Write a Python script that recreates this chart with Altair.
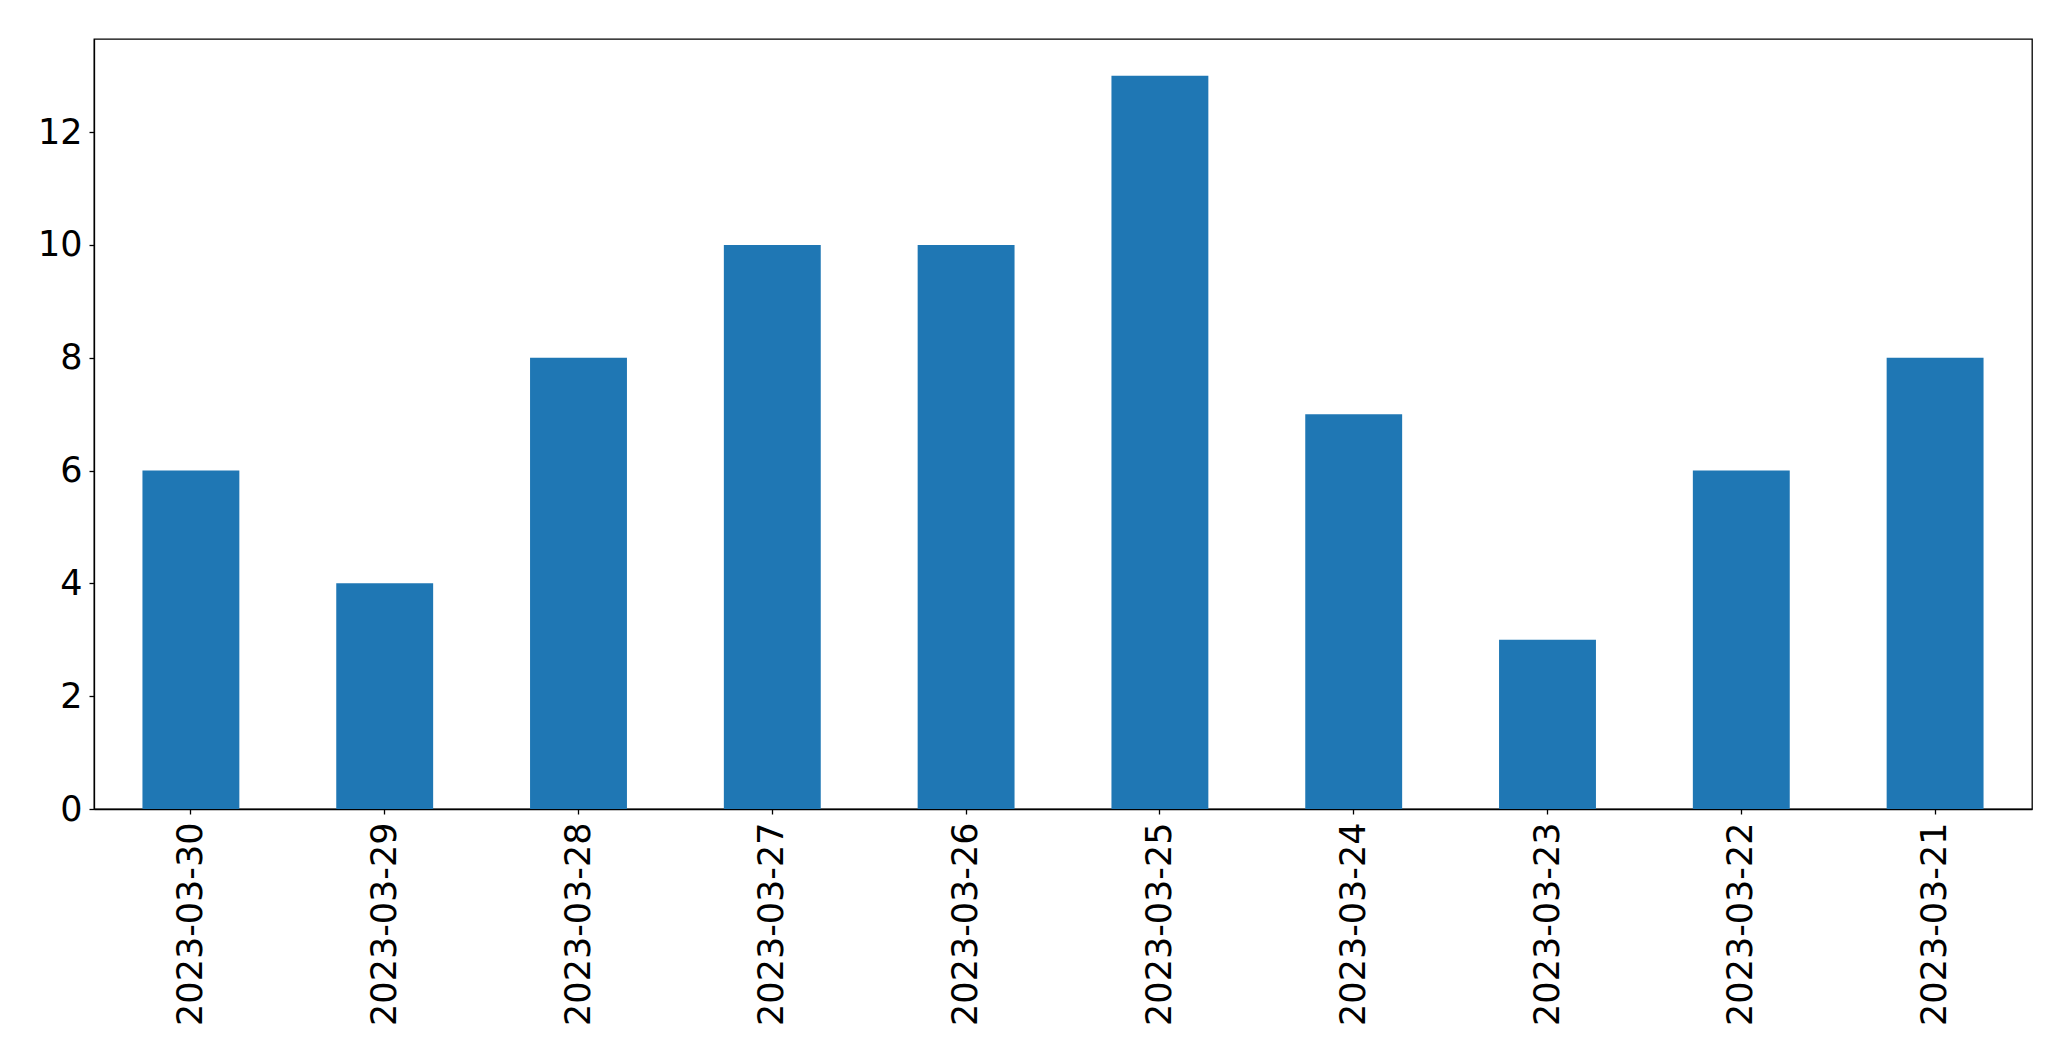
import altair as alt
import pandas as pd

dates = ["2023-03-30", "2023-03-29", "2023-03-28", "2023-03-27", "2023-03-26",
         "2023-03-25", "2023-03-24", "2023-03-23", "2023-03-22", "2023-03-21"]
counts = [6, 4, 8, 10, 10, 13, 7, 3, 6, 8]

df = pd.DataFrame({"date": dates, "count": counts})

chart = alt.Chart(df).mark_bar(color="#1f77b4").encode(
    x=alt.X("date:N", sort=dates, title=None,
            scale=alt.Scale(paddingInner=0.5, paddingOuter=0.25),
            axis=alt.Axis(labelAngle=-90, labelFontSize=35, labelFont="DejaVu Sans",
                          labelColor="black", tickColor="black", tickSize=5,
                          domainColor="black", labelPadding=8, labelLimit=0)),
    y=alt.Y("count:Q", title=None,
            scale=alt.Scale(domain=[0, 13.65], nice=False),
            axis=alt.Axis(values=[0, 2, 4, 6, 8, 10, 12], grid=False, labelFontSize=35,
                          labelFont="DejaVu Sans", labelColor="black", tickColor="black",
                          tickSize=5, domainColor="black", labelPadding=7)),
).properties(
    width=1938, height=770,
    autosize=alt.AutoSizeParams(type="none"),
    padding={"left": 94, "top": 39, "right": 39, "bottom": 252},
).configure_view(stroke="black", strokeWidth=1.3).configure_axis(domainWidth=1.3, tickWidth=1.3)

chart.save("out.html", embed_options={"renderer": "svg", "actions": False})
